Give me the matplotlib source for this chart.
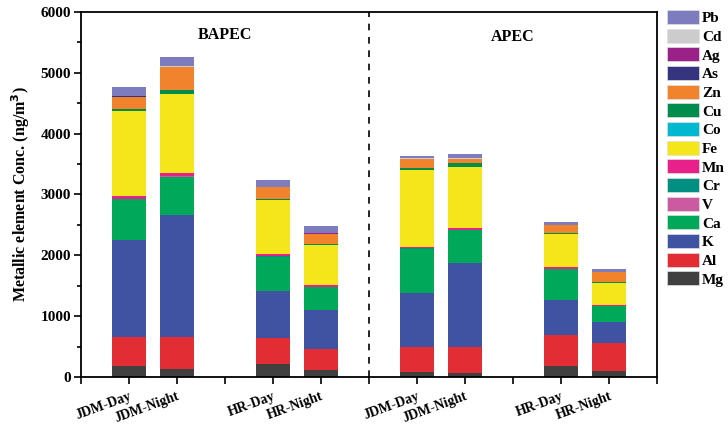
import matplotlib
matplotlib.use("Agg")
import matplotlib.pyplot as plt
from matplotlib.patches import Patch
from matplotlib.ticker import MultipleLocator

plt.rcParams["font.family"] = ["Liberation Serif", "DejaVu Serif"]
plt.rcParams["font.weight"] = "bold"

sites = ["JDM-Day", "JDM-Night", "HR-Day", "HR-Night",
         "JDM-Day", "JDM-Night", "HR-Day", "HR-Night"]
positions = [1, 2, 4, 5, 7, 8, 10, 11]

elements = ["Mg", "Al", "K", "Ca", "V", "Cr", "Mn", "Fe",
            "Co", "Cu", "Zn", "As", "Ag", "Cd", "Pb"]

colors = {
    "Mg": "#404040", "Al": "#e32d35", "K": "#4053a3", "Ca": "#00a859",
    "V": "#cc5aa0", "Cr": "#008f80", "Mn": "#e8208a", "Fe": "#f4e61b",
    "Co": "#00b8d0", "Cu": "#008c4a", "Zn": "#f0832b", "As": "#36337f",
    "Ag": "#9a2188", "Cd": "#cccccc", "Pb": "#7d7cbf",
}

# ng/m3, one value per bar (BAPEC x4, APEC x4)
Mg = [175, 131, 219, 109, 88, 66, 175, 99]
Al = [482, 526, 416, 351, 410, 432, 515, 454]
K = [1598, 1998, 783, 646, 881, 1374, 580, 345]
Ca = [668, 635, 558, 372, 728, 537, 503, 262]
V = [5, 5, 4, 3, 3, 3, 3, 3]
Cr = [5, 5, 4, 3, 3, 3, 3, 3]
Mn = [45, 50, 41, 32, 22, 26, 22, 22]
Fe = [1391, 1303, 876, 646, 1270, 1013, 542, 356]
Co = [3, 3, 2, 2, 2, 2, 2, 2]
Cu = [40, 63, 20, 20, 25, 53, 20, 20]
Zn = [197, 372, 197, 170, 153, 76, 131, 153]
As = [3, 5, 3, 3, 2, 2, 2, 2]
Ag = [3, 5, 3, 3, 2, 2, 2, 2]
Cd = [3, 3, 3, 2, 2, 2, 2, 2]
Pb = [155, 162, 112, 112, 44, 71, 49, 49]

values = {"Mg": Mg, "Al": Al, "K": K, "Ca": Ca, "V": V, "Cr": Cr, "Mn": Mn,
          "Fe": Fe, "Co": Co, "Cu": Cu, "Zn": Zn, "As": As, "Ag": Ag,
          "Cd": Cd, "Pb": Pb}

fig = plt.figure(figsize=(7.28, 4.25), dpi=100)
ax = fig.add_axes([0.111, 0.113, 0.7915, 0.859])

bottom = [0] * len(positions)
for el in elements:
    ax.bar(positions, values[el], width=0.7, bottom=bottom,
           color=colors[el], edgecolor="none", zorder=2)
    bottom = [b + v for b, v in zip(bottom, values[el])]

ax.axvline(6, color="black", linestyle=(0, (4, 4)), linewidth=1.2, zorder=3)

ax.set_xlim(0, 12)
ax.set_ylim(0, 6000)
ax.set_xticks(range(0, 13))
ax.set_xticklabels(["" if i not in positions else sites[positions.index(i)]
                    for i in range(0, 13)],
                   rotation=20, ha="right", rotation_mode="anchor",
                   fontsize=10, fontweight="bold")
ax.yaxis.set_major_locator(MultipleLocator(1000))
ax.yaxis.set_minor_locator(MultipleLocator(500))
ax.tick_params(axis="y", labelsize=11, length=5, width=1.2, pad=2)
ax.tick_params(axis="y", which="minor", length=3, width=1.2)
ax.tick_params(axis="x", length=5, width=1.2, pad=4)
for lab in ax.get_yticklabels():
    lab.set_fontweight("bold")
for sp in ax.spines.values():
    sp.set_linewidth(1.3)

ax.set_ylabel("Metallic element Conc. (ng/m$^\\mathbf{3}$)", fontsize=11.5,
              fontweight="bold", labelpad=6)

ax.text(3, 5620, "BAPEC", ha="center", va="center", fontsize=11.5,
        fontweight="bold")
ax.text(9, 5590, "APEC", ha="center", va="center", fontsize=11.5,
        fontweight="bold")

handles = [Patch(facecolor=colors[el], edgecolor="#e0e0e0", linewidth=0.5,
                 label=el) for el in reversed(elements)]
fig.legend(handles=handles, loc="upper left",
           bbox_to_anchor=(667 / 728, 1 - 10 / 425), frameon=False,
           handlelength=2.1, handleheight=1.05,
           labelspacing=0.22, handletextpad=0.2, borderpad=0,
           borderaxespad=0, prop={"weight": "bold", "size": 11})

fig.savefig("out.png", dpi=100)
